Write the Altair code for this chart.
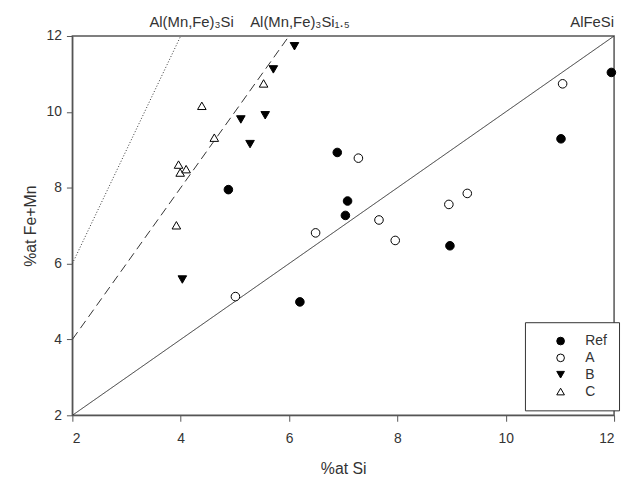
import altair as alt
import pandas as pd

# --- data ---
ref_x = [4.88, 6.20, 6.89, 7.08, 7.04, 8.97, 11.02, 11.95]
ref_y = [7.95, 4.99, 8.93, 7.65, 7.27, 6.47, 9.29, 11.04]
a_x = [5.01, 6.49, 7.28, 7.66, 7.96, 8.95, 9.29, 11.05]
a_y = [5.13, 6.81, 8.78, 7.15, 6.61, 7.56, 7.85, 10.74]
b_x = [4.03, 5.11, 5.28, 5.56, 5.71, 6.10]
b_y = [5.58, 9.80, 9.15, 9.91, 11.12, 11.73]
c_x = [3.92, 3.96, 3.99, 4.10, 4.39, 4.62, 5.53]
c_y = [7.01, 8.61, 8.40, 8.49, 10.16, 9.32, 10.75]

series_names = ["Ref", "A", "B", "C"]
series_shapes = ["circle", "circle", "triangle-down", "triangle-up"]
series_fills = ["black", "white", "black", "white"]

# phase lines: name, start x, start y, end x, end y
line_names = ["AlFeSi", "Al(Mn,Fe)₃Si₁.₅", "Al(Mn,Fe)₃Si"]
line_x0 = [2, 2, 2]
line_y0 = [2, 4, 6]
line_x1 = [12, 6, 4]
line_y1 = [12, 12, 12]

rows = []
for name, xs, ys in zip(series_names, [ref_x, a_x, b_x, c_x], [ref_y, a_y, b_y, c_y]):
    for x, y in zip(xs, ys):
        rows.append({"series": name, "x": x, "y": y})
pts = pd.DataFrame(rows)

lrows = []
for n, x0, y0, x1, y1 in zip(line_names, line_x0, line_y0, line_x1, line_y1):
    lrows.append({"line": n, "x": x0, "y": y0})
    lrows.append({"line": n, "x": x1, "y": y1})
lines = pd.DataFrame(lrows)

labels = pd.DataFrame({"line": line_names, "x": line_x1, "y": line_y1})

FONT = "Liberation Sans"
xscale = alt.Scale(domain=[2, 12], nice=False, zero=False)
yscale = alt.Scale(domain=[2, 12], nice=False, zero=False)

axis_common = dict(values=[2, 4, 6, 8, 10, 12], grid=False, tickSize=6,
                   labelFontSize=14, titleFontSize=16, labelFont=FONT, titleFont=FONT,
                   titleFontWeight="normal", domainColor="#555", tickColor="#555",
                   labelColor="#333", titleColor="#333")

xenc = alt.X("x:Q", scale=xscale,
             axis=alt.Axis(title="%at Si", labelPadding=10, titlePadding=16, **axis_common))
yenc = alt.Y("y:Q", scale=yscale,
             axis=alt.Axis(title="%at Fe+Mn", labelPadding=5, titlePadding=8, **axis_common))

def line_layer(name, dash):
    return alt.Chart(lines).transform_filter(alt.datum.line == name).mark_line(
        color="#333", strokeWidth=1, strokeDash=dash, clip=True
    ).encode(x=xenc, y=yenc)

solid = line_layer("AlFeSi", [1, 0])
dashed = line_layer("Al(Mn,Fe)₃Si₁.₅", [9, 5])
dotted = line_layer("Al(Mn,Fe)₃Si", [1, 2])

def legend():
    return alt.Legend(title=None, orient="none", legendX=457, legendY=289,
                      padding=12, symbolOffset=17, labelOffset=18,
                      strokeColor="#333", fillColor="white", cornerRadius=0,
                      rowPadding=3, labelFont=FONT, labelFontSize=14, labelColor="#333",
                      symbolSize=60, symbolStrokeWidth=1)

points = alt.Chart(pts).mark_point(filled=True, size=75, strokeWidth=1, opacity=1).encode(
    x=xenc, y=yenc,
    shape=alt.Shape("series:N", scale=alt.Scale(domain=series_names, range=series_shapes),
                    legend=legend()),
    fill=alt.Fill("series:N", scale=alt.Scale(domain=series_names, range=series_fills),
                  legend=legend()),
    stroke=alt.Stroke("series:N", scale=alt.Scale(domain=series_names,
                                                  range=["black", "black", "black", "black"]),
                      legend=legend()),
)

lab_center = alt.Chart(labels).transform_filter(alt.datum.line != "AlFeSi").mark_text(
    align="center", baseline="alphabetic", dx=11, dy=-9, font=FONT, fontSize=15, color="#333", clip=False
).encode(x=alt.X("x:Q", scale=xscale), y=alt.Y("y:Q", scale=yscale), text="line:N")

lab_right = alt.Chart(labels).transform_filter(alt.datum.line == "AlFeSi").mark_text(
    align="right", baseline="alphabetic", dx=0, dy=-9, font=FONT, fontSize=15, color="#333", clip=False
).encode(x=alt.X("x:Q", scale=xscale), y=alt.Y("y:Q", scale=yscale), text="line:N")

chart = alt.layer(solid, dashed, dotted, points, lab_center, lab_right).properties(
    width=547, height=383,
    autosize=alt.AutoSizeParams(type="none"),
    padding={"left": 65, "top": 26, "right": 8, "bottom": 60},
).configure_view(stroke="#555", strokeWidth=1.5)

chart.save("out.html", embed_options={"renderer": "svg", "actions": False})
